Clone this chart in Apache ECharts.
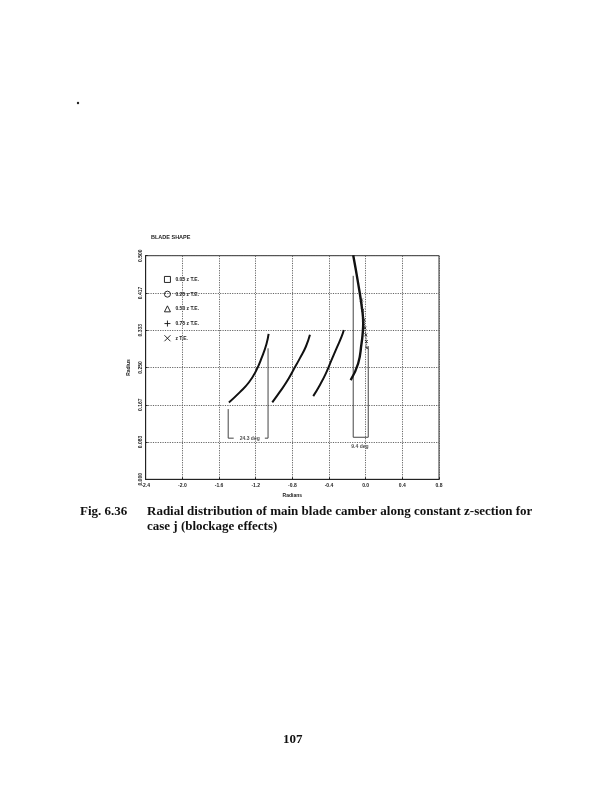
<!DOCTYPE html>
<html><head><meta charset="utf-8">
<script src="https://cdn.jsdelivr.net/npm/echarts@6/dist/echarts.min.js"></script>
<style>html,body{margin:0;padding:0;background:#fff}#c{width:612px;height:792px}</style>
</head><body><div id="c"></div>
<script>
// ---- data ----
const xMin = -2.4, xMax = 0.8, xStep = 0.4;
const yMin = 0, yMax = 0.5, yStep = 0.5 / 6;
const seriesNames = ['0.05 z T.E.', '0.25 z T.E.', '0.50 z T.E.', '0.75 z T.E.', 'z T.E.'];
const curve005 = [[-1.492,0.172],[-1.372,0.195],[-1.273,0.217],[-1.197,0.242],[-1.132,0.273],[-1.083,0.302],[-1.059,0.325]];
const curve025 = [[-1.019,0.172],[-0.935,0.196],[-0.862,0.218],[-0.790,0.244],[-0.717,0.271],[-0.652,0.297],[-0.608,0.323]];
const curve050 = [[-0.572,0.186],[-0.499,0.211],[-0.434,0.237],[-0.372,0.267],[-0.311,0.296],[-0.263,0.319],[-0.238,0.334]];
const curve075 = [[-0.136,0.501],[-0.082,0.438],[-0.038,0.379],[-0.027,0.349],[-0.034,0.323],[-0.045,0.304],[-0.082,0.259],[-0.164,0.222]];
const curveTE  = [[-0.045,0.401],[-0.032,0.378],[-0.020,0.356],[-0.008,0.338],[0.002,0.323],[0.008,0.308],[0.013,0.294]];
const bracketA1 = [[-1.50,0.157],[-1.50,0.092],[-1.44,0.092]];
const bracketA2 = [[-1.10,0.092],[-1.065,0.092],[-1.065,0.293]];
const bracketB  = [[-0.136,0.455],[-0.136,0.094],[0.028,0.094],[0.028,0.297]];
const angleLabelPos = [[-1.265,0.092],[-0.063,0.072]];
const angleLabelText = ['24.3 deg', '9.4 deg'];
const legendIcons = ['rect', 'circle', 'triangle', 'path://M5,0L5,10M0,5L10,5', 'path://M0,0L10,10M10,0L0,10'];

const chart = echarts.init(document.getElementById('c'), null, {renderer: 'canvas'});
const tickFont = {fontFamily: 'Liberation Sans', fontSize: 5, fontWeight: 'bold', color: '#222'};
const curves = [curve005, curve025, curve050, curve075];

const series = curves.map((d, i) => ({
  name: seriesNames[i], type: 'line', data: d, smooth: true, showSymbol: false,
  symbol: legendIcons[i], lineStyle: {color: '#111', width: i === 3 ? 2.4 : 2}, itemStyle: {color: '#111'},
  silent: true, z: 5
}));
series.push({
  name: seriesNames[4], type: 'line', data: curveTE, showSymbol: true, symbol: legendIcons[4], symbolSize: 3,
  lineStyle: {color: '#222', width: 1, type: 'dotted'}, itemStyle: {color: 'transparent', borderColor: '#222', borderWidth: 0.8},
  silent: true, z: 6
});
[bracketA1, bracketA2, bracketB].forEach(d => series.push({
  type: 'line', data: d, showSymbol: false, lineStyle: {color: '#444', width: 1}, silent: true, z: 4
}));
series.push({
  type: 'scatter', symbolSize: 0, silent: true, z: 7,
  data: angleLabelPos.map((p, i) => ({value: p, name: angleLabelText[i]})),
  label: {show: true, position: 'inside', formatter: p => p.name, fontFamily: 'Liberation Sans', fontSize: 5, fontWeight: 'bold', color: '#222'}
});

chart.setOption({
  animation: false,
  backgroundColor: '#fff',
  title: {text: 'BLADE SHAPE', left: 146, top: 229, textStyle: {fontFamily: 'Liberation Sans', fontSize: 5.5, fontWeight: 'bold', color: '#222'}},
  grid: {left: 145.7, right: 173, top: 255.7, bottom: 312.7, show: true, borderColor: '#333', borderWidth: 1, backgroundColor: 'transparent'},
  legend: {
    orient: 'vertical', left: 159, top: 271, itemWidth: 6, itemHeight: 6, itemGap: 7.8,
    data: seriesNames.map((n, i) => ({name: n, icon: legendIcons[i]})),
    itemStyle: {color: 'transparent', borderColor: '#111', borderWidth: 0.9},
    lineStyle: {width: 0},
    textStyle: {fontFamily: 'Liberation Sans', fontSize: 5, fontWeight: 'bold', color: '#222'},
    selectedMode: false, inactiveColor: '#111'
  },
  xAxis: {
    type: 'value', min: xMin, max: xMax, interval: xStep,
    name: 'Radians', nameLocation: 'middle', nameGap: 14,
    nameTextStyle: {fontFamily: 'Liberation Sans', fontSize: 5, fontWeight: 'bold', color: '#222'},
    axisLine: {show: true, onZero: false, lineStyle: {color: '#222', width: 1}},
    axisTick: {show: true, inside: true, length: 2, lineStyle: {color: '#222'}},
    axisLabel: Object.assign({margin: 4, formatter: v => v.toFixed(1)}, tickFont),
    splitLine: {show: true, lineStyle: {color: '#555', width: 0.9, type: [1.2, 1.2]}}
  },
  yAxis: {
    type: 'value', min: yMin, max: yMax, interval: yStep,
    name: 'Radius', nameLocation: 'middle', nameGap: 15, nameRotate: 90,
    nameTextStyle: {fontFamily: 'Liberation Sans', fontSize: 5, fontWeight: 'bold', color: '#222'},
    axisLine: {show: true, onZero: false, lineStyle: {color: '#222', width: 1}},
    axisTick: {show: true, inside: true, length: 2, lineStyle: {color: '#222'}},
    axisLabel: Object.assign({margin: 3, rotate: 90, showMaxLabel: true, formatter: v => v.toFixed(3)}, tickFont),
    splitLine: {show: true, lineStyle: {color: '#555', width: 0.9, type: [1.2, 1.2]}}
  },
  graphic: [
    {type: 'circle', shape: {cx: 78, cy: 103, r: 1.2}, style: {fill: '#222'}},
    {type: 'text', left: 80, top: 505, style: {text: 'Fig. 6.36', font: 'bold 13px "Liberation Serif"', fill: '#111'}},
    {type: 'text', left: 147, top: 505, style: {text: 'Radial distribution of main blade camber along constant z-section for', font: 'bold 13px "Liberation Serif"', fill: '#111'}},
    {type: 'text', left: 147, top: 520, style: {text: 'case j (blockage effects)', font: 'bold 13px "Liberation Serif"', fill: '#111'}},
    {type: 'text', left: 283, top: 733, style: {text: '107', font: 'bold 13px "Liberation Serif"', fill: '#111'}}
  ],
  series: series
});
</script></body></html>
